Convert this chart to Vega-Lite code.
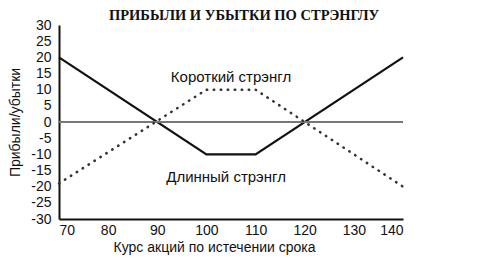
{
  "$schema": "https://vega.github.io/schema/vega-lite/v6.json",
  "autosize": "none",
  "width": 344,
  "height": 194,
  "padding": {"left": 59, "top": 25, "right": 87, "bottom": 39},
  "background": "white",
  "title": {
    "text": "ПРИБЫЛИ И УБЫТКИ ПО СТРЭНГЛУ",
    "font": "Liberation Serif",
    "fontSize": 14.5,
    "fontWeight": "bold",
    "color": "#111",
    "anchor": "middle",
    "dx": 13,
    "offset": -16,
    "baseline": "alphabetic"
  },
  "datasets": {
    "lines": [
      {"series": "long", "x": 70, "y": 20},
      {"series": "long", "x": 100, "y": -10},
      {"series": "long", "x": 110, "y": -10},
      {"series": "long", "x": 140, "y": 20},
      {"series": "short", "x": 70, "y": -19},
      {"series": "short", "x": 100, "y": 10},
      {"series": "short", "x": 110, "y": 10},
      {"series": "short", "x": 140, "y": -20}
    ],
    "labels": [
      {"label": "Короткий стрэнгл", "x": 105, "y": 14},
      {"label": "Длинный стрэнгл", "x": 104, "y": -17}
    ],
    "zero": [{"y": 0}]
  },
  "config": {
    "view": {"stroke": null},
    "axis": {
      "labelFont": "Liberation Sans",
      "titleFont": "Liberation Sans",
      "labelFontSize": 14,
      "titleFontSize": 14,
      "labelColor": "#111",
      "titleColor": "#111",
      "titleFontWeight": "normal",
      "grid": false,
      "ticks": false,
      "domainColor": "#111",
      "domainWidth": 2
    }
  },
  "layer": [
    {
      "data": {"name": "lines"},
      "transform": [{"filter": "datum.series === 'long'"}],
      "mark": {"type": "line", "color": "#111", "strokeWidth": 2.2},
      "encoding": {
        "x": {
          "field": "x", "type": "quantitative",
          "scale": {"domain": [70, 140], "nice": false},
          "axis": {"values": [70, 80, 90, 100, 110, 120, 130, 140], "labelPadding": 4, "title": "Курс акций по истечении срока", "titleX": 155, "titlePadding": 3}
        },
        "y": {
          "field": "y", "type": "quantitative",
          "scale": {"domain": [-30, 30], "nice": false},
          "axis": {"values": [-30, -25, -20, -15, -10, -5, 0, 5, 10, 15, 20, 25, 30], "tickCount": 13, "format": "d", "labelExpr": "replace(datum.label, '−', '-')", "labelOverlap": false, "labelFontSize": 14, "labelPadding": 8, "labelFlush": false, "title": "Прибыли/убытки", "titlePadding": 8}
        }
      }
    },
    {
      "data": {"name": "zero"},
      "mark": {"type": "rule", "color": "#777", "strokeWidth": 2},
      "encoding": {
        "y": {"field": "y", "type": "quantitative"}
      }
    },
    {
      "data": {"name": "lines"},
      "transform": [{"filter": "datum.series === 'short'"}],
      "mark": {"type": "line", "color": "#333", "strokeWidth": 2.5, "strokeDash": [0.5, 6.5], "strokeCap": "round"},
      "encoding": {
        "x": {"field": "x", "type": "quantitative"},
        "y": {"field": "y", "type": "quantitative"}
      }
    },
    {
      "data": {"name": "labels"},
      "mark": {"type": "text", "font": "Liberation Sans", "fontSize": 15, "color": "#111"},
      "encoding": {
        "x": {"field": "x", "type": "quantitative"},
        "y": {"field": "y", "type": "quantitative"},
        "text": {"field": "label"}
      }
    }
  ]
}
